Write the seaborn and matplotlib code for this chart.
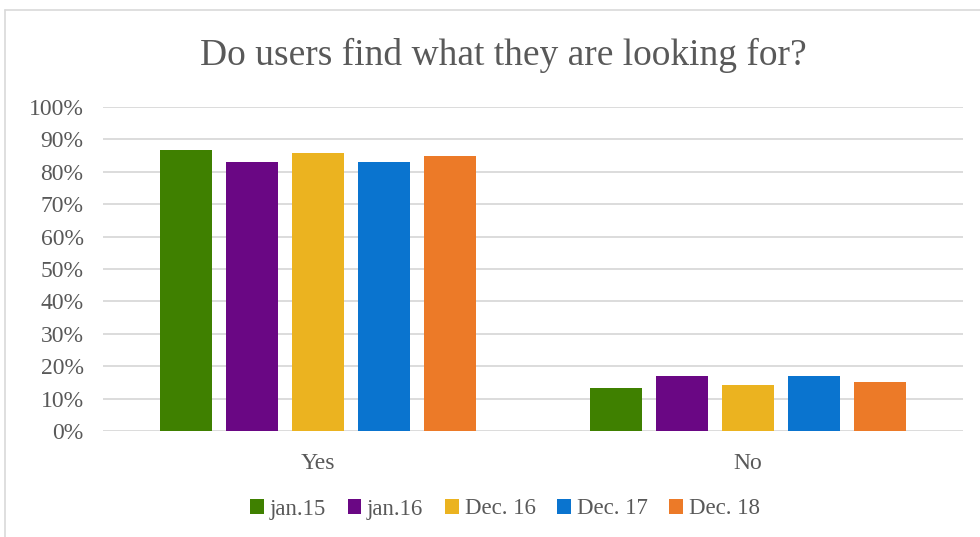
import matplotlib
matplotlib.use("Agg")
import matplotlib.pyplot as plt
from matplotlib.patches import Patch
from matplotlib.lines import Line2D
import seaborn as sns
import pandas as pd

categories = ["Yes", "No"]
periods = ["jan.15", "jan.16", "Dec. 16", "Dec. 17", "Dec. 18"]
yes_values = [0.866, 0.831, 0.859, 0.831, 0.849]
no_values = [0.134, 0.169, 0.141, 0.169, 0.151]
colors = ["#3F8000", "#6A0784", "#EBB320", "#0A74CF", "#EC7A28"]
y_ticks = [i / 10 for i in range(11)]
y_tick_labels = [f"{i * 10}%" for i in range(11)]

rows = []
for p, yv, nv in zip(periods, yes_values, no_values):
    rows.append({"answer": "Yes", "period": p, "share": yv})
    rows.append({"answer": "No", "period": p, "share": nv})
df = pd.DataFrame(rows)

sns.set_theme(style="white")
plt.rcParams["font.family"] = ["Liberation Serif", "DejaVu Serif"]
text_color = "#595959"

W, H = 980, 537
fig = plt.figure(figsize=(W / 100, H / 100), dpi=100)
ax = fig.add_axes([103 / W, 1 - 431 / H, 860 / W, 324 / H])

sns.barplot(data=df, x="answer", y="share", hue="period", order=categories,
            hue_order=periods, palette=colors, saturation=1, width=0.767,
            gap=0.21, linewidth=0, ax=ax, legend=False)

ax.set_xlim(-0.5, 1.5)
ax.set_ylim(0, 1)
ax.set_yticks(y_ticks)
ax.set_yticklabels(y_tick_labels)
ax.yaxis.grid(True, color="#D9D9D9", linewidth=1.3)
ax.set_axisbelow(True)
for s in ax.spines.values():
    s.set_visible(False)
ax.set_xlabel("")
ax.set_ylabel("")
ax.tick_params(axis="y", colors=text_color, labelsize=17, length=0, pad=14)
ax.tick_params(axis="x", colors=text_color, labelsize=17, length=0, pad=16)

fig.text(503 / W, 1 - 55 / H, "Do users find what they are looking for?",
         ha="center", va="center", fontsize=27, color=text_color)

handles = [Patch(facecolor=c, edgecolor="none") for c in colors]
fig.legend(handles, periods, loc="center", ncol=5, frameon=False,
           bbox_to_anchor=(505 / W, 1 - 509 / H), fontsize=16.5,
           handlelength=0.6, handleheight=0.6, handletextpad=0.25,
           columnspacing=0.95, labelcolor=text_color)

# light outer frame of the chart area
border = "#D9D9D9"
fig.add_artist(Line2D([5 / W, 5 / W], [0, 1 - 10 / H], color=border, linewidth=1.2))
fig.add_artist(Line2D([5 / W, 1], [1 - 10 / H, 1 - 10 / H], color=border, linewidth=1.2))

fig.savefig("out.png", dpi=100, facecolor="white")
